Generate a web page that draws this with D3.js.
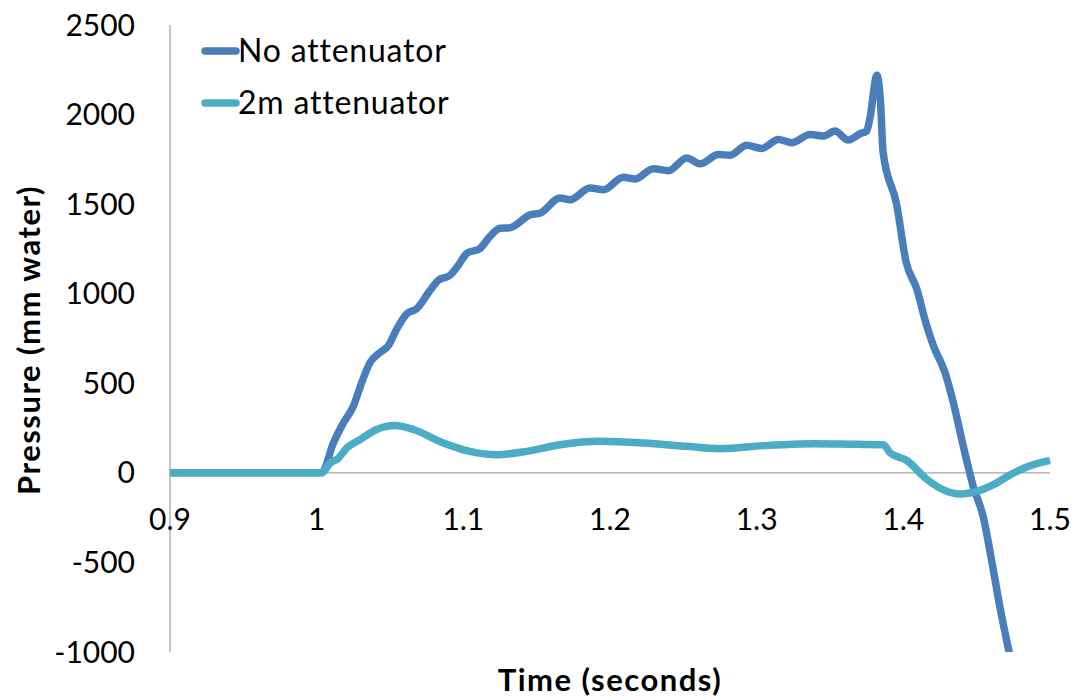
<!DOCTYPE html>
<html>
<head>
<meta charset="utf-8">
<script src="https://cdn.jsdelivr.net/npm/d3@7"></script>
<style>
  html, body { margin: 0; padding: 0; background: #fff; }
  svg text { font-family: Lato, "Open Sans", sans-serif; fill: #000; }
</style>
</head>
<body>
<svg id="chart" width="1080" height="700"></svg>
<script>
// ---- data ----
const seriesNames = ["No attenuator", "2m attenuator"];
const xTicks = [0.9, 1, 1.1, 1.2, 1.3, 1.4, 1.5];
const xTickLabels = ["0.9", "1", "1.1", "1.2", "1.3", "1.4", "1.5"];
const yTicks = [-1000, -500, 0, 500, 1000, 1500, 2000, 2500];
const yTickLabels = ["-1000", "-500", "0", "500", "1000", "1500", "2000", "2500"];

const noAttTime = [0.9, 1.0, 1.0034, 1.0114, 1.0182, 1.025, 1.0307, 1.0364, 1.0432, 1.0489,
  1.0546, 1.0614, 1.0682, 1.0773, 1.083, 1.0909, 1.0966, 1.1023, 1.1114, 1.1182,
  1.125, 1.1318, 1.1455, 1.1523, 1.1659, 1.1727, 1.1864, 1.1955, 1.2091, 1.217,
  1.2295, 1.2398, 1.2523, 1.2614, 1.2739, 1.2818, 1.2932, 1.3034, 1.3148, 1.3239,
  1.3364, 1.3455, 1.3534, 1.3625, 1.3705, 1.375, 1.3773, 1.382, 1.3845, 1.3862,
  1.3955, 1.4018, 1.4091, 1.4159, 1.4205, 1.4284, 1.4341, 1.4409, 1.4477,
  1.4545, 1.4602, 1.4659, 1.4727];
const noAttPressure = [0, 0, 0, 167, 279, 372, 504, 616, 672, 710,
  803, 888, 916, 1019, 1075, 1103, 1159, 1225, 1253, 1320,
  1365, 1368, 1440, 1449, 1534, 1524, 1590, 1580, 1650, 1640,
  1698, 1687, 1758, 1725, 1777, 1773, 1829, 1811, 1861, 1843,
  1889, 1880, 1908, 1858, 1893, 1908, 1983, 2219, 2060, 1790,
  1496, 1180, 1028, 822, 710, 560, 392, 148, -77,
  -246, -489, -751, -1022];

const att2mTime = [0.9, 1.0, 1.0034, 1.0091, 1.0148, 1.0205, 1.0295, 1.0409, 1.0534, 1.0659,
  1.0864, 1.1045, 1.1227, 1.1432, 1.1659, 1.1932, 1.2227, 1.2523, 1.275, 1.3045,
  1.3386, 1.3682, 1.3864, 1.3909, 1.4023, 1.4159, 1.4273, 1.4386, 1.4523, 1.4614,
  1.4727, 1.4841, 1.5];
const att2mPressure = [0, 0, 0, 54, 82, 139, 185, 242, 264, 242,
  167, 120, 101, 120, 157, 176, 167, 148, 135, 152,
  163, 159, 157, 112, 70, -35, -95, -118, -98, -66,
  -12, 33, 70];

const colors = ["#4A7EBB", "#4BACC6"];

// ---- chart ----
const svg = d3.select("#chart");
const x = d3.scaleLinear().domain([0.9, 1.5]).range([170, 1050]);
const y = d3.scaleLinear().domain([-1000, 2500]).range([652, 25]);

svg.append("defs").append("clipPath").attr("id", "clip")
  .append("rect").attr("x", 160).attr("y", 20).attr("width", 900).attr("height", 632);

// axes lines
svg.append("line").attr("x1", x(0.9)).attr("x2", x(0.9)).attr("y1", y(2500)).attr("y2", y(-1000))
  .attr("stroke", "#A6A6A6").attr("stroke-width", 1.3);
svg.append("line").attr("x1", x(0.9)).attr("x2", x(1.5)).attr("y1", y(0)).attr("y2", y(0))
  .attr("stroke", "#A6A6A6").attr("stroke-width", 1.3);

// y tick labels
svg.append("g").selectAll("text").data(yTicks).join("text")
  .attr("x", 135).attr("y", d => y(d)).attr("dy", "0.35em")
  .attr("text-anchor", "end").attr("font-size", 30)
  .text((d, i) => yTickLabels[i]);

// x tick labels (below the zero line)
svg.append("g").selectAll("text").data(xTicks).join("text")
  .attr("x", d => x(d)).attr("y", 519).attr("dy", "0.35em")
  .attr("text-anchor", "middle").attr("font-size", 30)
  .text((d, i) => xTickLabels[i]);

// axis titles
svg.append("text").attr("transform", "translate(29,340) rotate(-90)")
  .attr("dy", "0.35em")
  .attr("text-anchor", "middle").attr("font-size", 31).attr("font-weight", "bold")
  .attr("letter-spacing", 1.5)
  .text("Pressure (mm water)");
svg.append("text").attr("x", 610).attr("y", 680).attr("dy", "0.35em")
  .attr("text-anchor", "middle").attr("font-size", 31).attr("font-weight", "bold")
  .attr("letter-spacing", 1.5)
  .text("Time (seconds)");

// lines
const line = d3.line().x(d => x(d[0])).y(d => y(d[1])).curve(d3.curveMonotoneX);
const series = [
  noAttTime.map((t, i) => [t, noAttPressure[i]]),
  att2mTime.map((t, i) => [t, att2mPressure[i]])
];
const g = svg.append("g").attr("clip-path", "url(#clip)");
series.forEach((s, i) => {
  g.append("path").datum(s).attr("d", line)
    .attr("fill", "none").attr("stroke", colors[i]).attr("stroke-width", 7.5)
    .attr("stroke-linejoin", "round").attr("stroke-linecap", "butt");
});

// legend
const legendY = [51, 103];
seriesNames.forEach((name, i) => {
  svg.append("line").attr("x1", 205).attr("x2", 236).attr("y1", legendY[i]).attr("y2", legendY[i])
    .attr("stroke", colors[i]).attr("stroke-width", 7.5).attr("stroke-linecap", "round");
  svg.append("text").attr("x", 238).attr("y", legendY[i]).attr("dy", "0.35em")
    .attr("font-size", 32).attr("letter-spacing", 0.8).text(name);
});
</script>
</body>
</html>
